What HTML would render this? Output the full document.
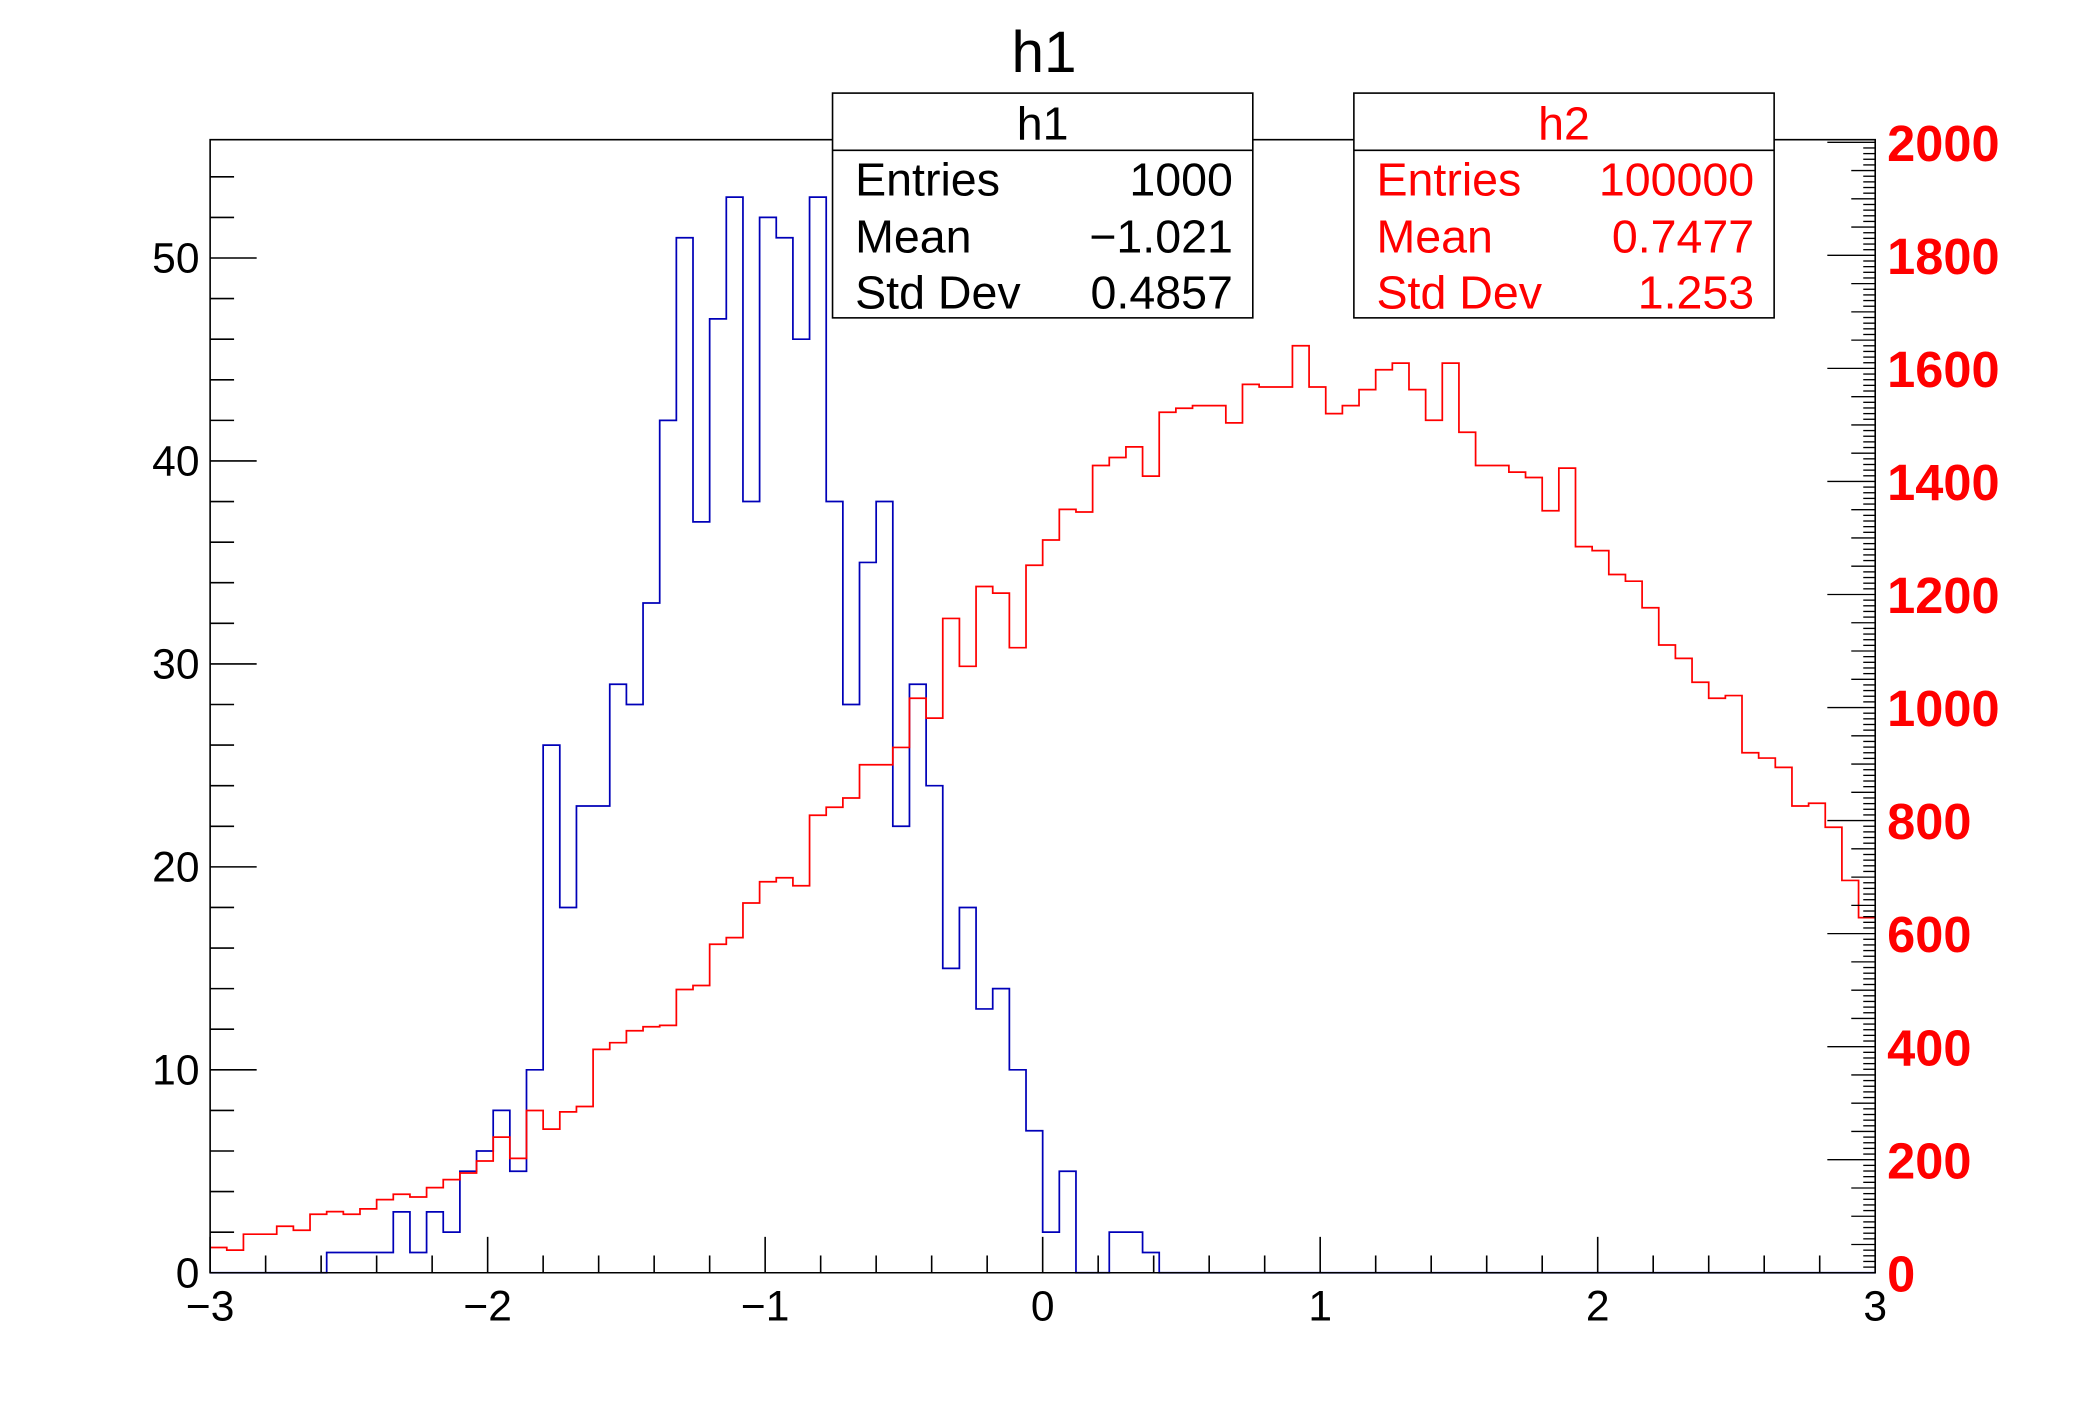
<!DOCTYPE html>
<html><head><meta charset="utf-8"><style>html,body{margin:0;padding:0;background:#fff;}svg{display:block;}</style></head>
<body>
<svg id="s" xmlns="http://www.w3.org/2000/svg" width="2088" height="1416" viewBox="0 0 1570 1064.7" preserveAspectRatio="none" font-family="'Liberation Sans', sans-serif">
<rect x="0" y="0" width="1570" height="1065" fill="#fff"/>
<g id="g"></g>
</svg>
<script>
const g=document.getElementById('g');
let h='';
const X0=158,X1=1410,Y0=957,Y1=105;
const bw=(X1-X0)/100;
const blue=[0,0,0,0,0,0,0,1,1,1,1,3,1,3,2,5,6,8,5,10,26,18,23,23,29,28,33,42,51,37,47,53,38,52,51,46,53,38,28,35,38,22,29,24,15,18,13,14,10,7,2,5,0,0,2,2,1];
while(blue.length<100)blue.push(0);
const ry=[938,940,928,928,922,925,913,911,913,909,902,898,900,893,887,882,873,855,871,835,849,836,832,789,784,775,772,771,744,741,710,705,679,663,660,666,613,607,600,575,575,562,525,540,465,501,441,446,487,425,406,383,385,350,344,336,358,310,307,305,305,318,289,291,291,260,291,311,305,293,278,273,293,316,273,325,350,350,355,359,384,352,411,414,432,437,457,485,495,513,525,523,566,570,577,606,604,622,662,690];
function hist(ys,col){
  let d='M'+X0+' '+ys[0];
  for(let i=0;i<ys.length;i++){
    const xa=X0+i*bw,xb=X0+(i+1)*bw;
    if(i>0)d+=' L'+xa.toFixed(2)+' '+ys[i];
    d+=' L'+xb.toFixed(2)+' '+ys[i];
  }
  return '<path d="'+d+'" fill="none" stroke="'+col+'" stroke-width="1.3"/>';
}
let by=blue.map(v=>Y0-v*15.26);
h+=hist(by,'#0000b8');
h+=hist(ry,'#ff0000');
h+='<path d="M'+X0+' '+Y1+' H'+X1+' V'+Y0+' H'+X0+' Z" fill="none" stroke="#000" stroke-width="1.2"/>';
for(let v=0;v<=55;v+=2){const y=Y0-v*15.26;const L=(v%10==0)?35:18;h+='<line x1="'+X0+'" y1="'+y+'" x2="'+(X0+L)+'" y2="'+y+'" stroke="#000" stroke-width="1.2"/>';
 if(v%10==0)h+='<text x="150" y="'+(y+11)+'" font-size="32" text-anchor="end">'+v+'</text>';}
for(let k=0;k<=30;k++){const x=X0+k*(X1-X0)/30;const L=(k%5==0)?27:13;h+='<line x1="'+x+'" y1="'+Y0+'" x2="'+x+'" y2="'+(Y0-L)+'" stroke="#000" stroke-width="1.2"/>';
 if(k%5==0){const v=k/5-3;h+='<text x="'+x+'" y="993" font-size="32" text-anchor="middle">'+(v<0?'\u2212'+(-v):v)+'</text>';}}
const rs=0.425;
for(let v=0;v<=2000;v+=10){const y=Y0-v*rs;const L=(v%200==0)?36:(v%50==0?18:9);h+='<line x1="'+X1+'" y1="'+y.toFixed(2)+'" x2="'+(X1-L)+'" y2="'+y.toFixed(2)+'" stroke="#000" stroke-width="1"/>';
 if(v%200==0)h+='<text x="1419" y="'+(y+14)+'" font-size="38" font-weight="bold" fill="#ff0000">'+v+'</text>';}
h+='<text x="785" y="54" font-size="44" text-anchor="middle">h1</text>';
function box(x,col,name,vals){
  let s='<rect x="'+x+'" y="70" width="316" height="169" fill="#fff" stroke="#000" stroke-width="1.2"/>';
  s+='<line x1="'+x+'" y1="113" x2="'+(x+316)+'" y2="113" stroke="#000" stroke-width="1.2"/>';
  s+='<text x="'+(x+158)+'" y="105" font-size="35" text-anchor="middle" fill="'+col+'">'+name+'</text>';
  const labs=['Entries','Mean','Std Dev'],ys=[147,190,232];
  for(let i=0;i<3;i++){s+='<text x="'+(x+17)+'" y="'+ys[i]+'" font-size="35" fill="'+col+'">'+labs[i]+'</text>';
   s+='<text x="'+(x+301)+'" y="'+ys[i]+'" font-size="35" text-anchor="end" fill="'+col+'">'+vals[i]+'</text>';}
  return s;
}
h+=box(626,'#000','h1',['1000','\u22121.021','0.4857']);
h+=box(1018,'#ff0000','h2',['100000','0.7477','1.253']);
g.innerHTML=h;
</script>
</body></html>
